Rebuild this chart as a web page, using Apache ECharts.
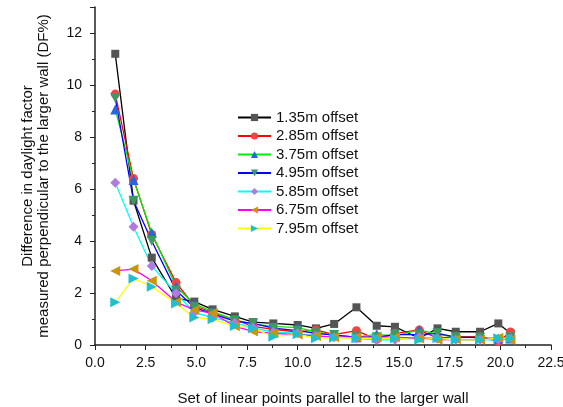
<!DOCTYPE html>
<html>
<head>
<meta charset="utf-8">
<script src="https://cdn.jsdelivr.net/npm/echarts@6/dist/echarts.min.js"></script>
<style>
  html, body { margin: 0; padding: 0; background: #fff; }
  #chart { width: 563px; height: 407px; }
</style>
</head>
<body>
<div id="chart"></div>
<script>
// Positions of the linear measurement points along the wall
const xs = [1, 1.9, 2.8, 4, 4.9, 5.8, 6.9, 7.8, 8.8, 10, 10.9, 11.8, 12.9, 13.9, 14.8, 16, 16.9, 17.8, 19, 19.9, 20.5];

// Daylight factor difference (DF%) for each offset
const off135 = [11.2, 5.55, 3.36, 1.8, 1.67, 1.37, 1.1, 0.88, 0.83, 0.77, 0.64, 0.81, 1.45, 0.74, 0.7, 0.26, 0.64, 0.51, 0.51, 0.83, 0.45];
const off285 = [9.65, 6.4, 4.25, 2.4, 1.51, 1.25, 0.98, 0.72, 0.6, 0.5, 0.58, 0.4, 0.55, 0.22, 0.45, 0.58, 0.26, 0.32, 0.32, 0.13, 0.5];
const off375 = [9.06, 6.35, 4.32, 2.24, 1.58, 1.28, 0.97, 0.8, 0.72, 0.67, 0.5, 0.38, 0.3, 0.41, 0.35, 0.58, 0.42, 0.3, 0.28, 0.25, 0.25];
const off495 = [9.5, 5.55, 4.0, 2.1, 1.45, 1.2, 0.92, 0.83, 0.65, 0.55, 0.45, 0.38, 0.3, 0.3, 0.4, 0.4, 0.45, 0.3, 0.28, 0.2, 0.3];
const off585 = [6.24, 4.55, 3.04, 1.99, 1.25, 1.05, 0.85, 0.66, 0.5, 0.45, 0.35, 0.3, 0.25, 0.2, 0.2, 0.3, 0.25, 0.2, 0.2, 0.2, 0.25];
const off675 = [2.85, 2.92, 2.47, 1.65, 1.35, 1.22, 0.72, 0.52, 0.45, 0.4, 0.35, 0.3, 0.3, 0.3, 0.3, 0.25, 0.2, 0.22, 0.2, 0.28, 0.2];
const off795 = [1.64, 2.56, 2.24, 1.6, 1.06, 0.99, 0.73, 0.64, 0.32, 0.41, 0.26, 0.28, 0.26, 0.26, 0.26, 0.2, 0.26, 0.2, 0.2, 0.26, 0.25];

const seriesNames = ['1.35m offset', '2.85m offset', '3.75m offset', '4.95m offset', '5.85m offset', '6.75m offset', '7.95m offset'];

// Axis ranges and tick steps
const xMin = 0, xMax = 22.5, xStep = 2.5;
const yMin = 0, yMax = 13, yStep = 2;

const FONT = 'Liberation Sans, Arial, sans-serif';

const styles = [
  { line: '#000000', mark: '#555555', symbol: 'rect', size: 8, rot: 0 },
  { line: '#ff0000', mark: '#f04545', symbol: 'circle', size: 9, rot: 0 },
  { line: '#00ee00', mark: '#2266e0', symbol: 'triangle', size: 10, rot: 0 },
  { line: '#0000ff', mark: '#3a9a66', symbol: 'triangle', size: 10, rot: 180 },
  { line: '#00ffff', mark: '#b07ae0', symbol: 'diamond', size: 10, rot: 0 },
  { line: '#ff00ff', mark: '#c8960c', symbol: 'triangle', size: 10, rot: 90 },
  { line: '#ffff00', mark: '#1ec0d0', symbol: 'triangle', size: 10, rot: -90 }
];

const values = [off135, off285, off375, off495, off585, off675, off795];

const series = values.map((vals, i) => ({
  name: seriesNames[i],
  type: 'line',
  data: xs.map((x, j) => [x, vals[j]]),
  symbol: styles[i].symbol,
  symbolSize: styles[i].size,
  symbolRotate: styles[i].rot,
  lineStyle: { color: styles[i].line, width: 1.3 },
  itemStyle: { color: styles[i].mark, borderWidth: 0 },
  emphasis: { disabled: true },
  animation: false
}));

const chart = echarts.init(document.getElementById('chart'), null, { renderer: 'canvas' });
chart.setOption({
  backgroundColor: '#ffffff',
  animation: false,
  grid: { left: 95, right: 12, top: 7, bottom: 62, containLabel: false, outerBoundsMode: 'none' },
  legend: {
    orient: 'vertical',
    left: 237,
    top: 110,
    padding: 0,
    itemWidth: 33,
    itemHeight: 9,
    itemGap: 3.5,
    textStyle: { fontFamily: FONT, fontSize: 15, color: '#111' },
    data: seriesNames
  },
  xAxis: {
    type: 'value',
    min: xMin, max: xMax, interval: xStep,
    name: 'Set of linear points parallel to the larger wall',
    nameLocation: 'middle',
    nameGap: 46,
    nameTextStyle: { fontFamily: FONT, fontSize: 15, color: '#111' },
    axisLine: { show: true, onZero: false, lineStyle: { color: '#222', width: 1.5 } },
    axisTick: { show: true, inside: false, length: 5, lineStyle: { color: '#222' } },
    minorTick: { show: true, splitNumber: 2, length: 3, lineStyle: { color: '#222' } },
    splitLine: { show: false },
    axisLabel: { fontFamily: FONT, fontSize: 14, color: '#111', margin: 11, formatter: v => v.toFixed(1) }
  },
  yAxis: {
    type: 'value',
    min: yMin, max: yMax, interval: yStep,
    name: 'Difference in daylight factor\nmeasured perpendicular to the larger wall (DF%)',
    nameLocation: 'middle',
    nameRotate: 90,
    nameGap: 43,
    nameTextStyle: { fontFamily: FONT, fontSize: 15, color: '#111', lineHeight: 16 },
    axisLine: { show: true, onZero: false, lineStyle: { color: '#222', width: 1.5 } },
    axisTick: { show: true, inside: false, length: 5, lineStyle: { color: '#222' } },
    minorTick: { show: true, splitNumber: 2, length: 3, lineStyle: { color: '#222' } },
    splitLine: { show: false },
    axisLabel: { fontFamily: FONT, fontSize: 14, color: '#111', margin: 13,
      formatter: v => (v <= 12 ? String(v) : '') }
  },
  series: series
});
</script>
</body>
</html>
